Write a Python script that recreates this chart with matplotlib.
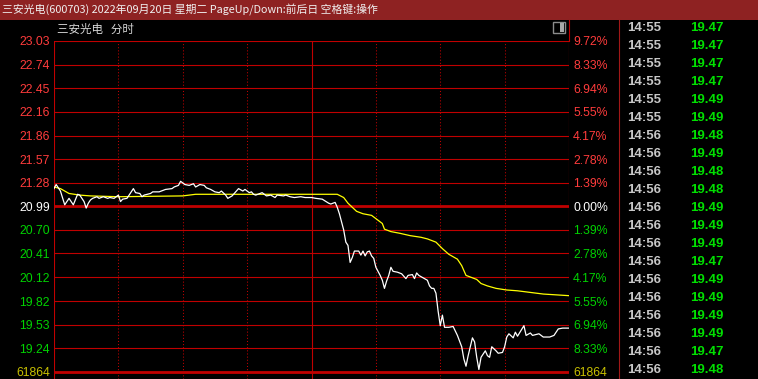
import matplotlib
matplotlib.use("Agg")
import matplotlib.pyplot as plt
from matplotlib.patches import Rectangle
from matplotlib.lines import Line2D


# ---------- data ----------
title = "三安光电(600703) 2022年09月20日 星期二 PageUp/Down:前后日 空格键:操作"
subtitle = "三安光电   分时"

price_labels = ["23.03", "22.74", "22.45", "22.16", "21.86", "21.57", "21.28",
                "20.99", "20.70", "20.41", "20.12", "19.82", "19.53", "19.24"]
pct_labels = ["9.72%", "8.33%", "6.94%", "5.55%", "4.17%", "2.78%", "1.39%",
              "0.00%", "1.39%", "2.78%", "4.17%", "5.55%", "6.94%", "8.33%"]
prev_close = 20.99
vol_label = "61864"
vol_row = 18.95

# minute index (0..240) and last price
price_min = [0, 1, 3, 5, 7, 9, 11, 12, 14, 15, 16, 17, 18, 20, 21, 23, 25, 26, 28, 30,
             31, 32, 34, 35, 37, 38, 40, 41, 42, 45, 46, 49, 50, 52, 55, 56, 58, 59, 60, 61,
             63, 65, 66, 68, 70, 71, 73, 75, 77, 78, 80, 81, 83, 85, 86, 88, 89, 91, 92, 93,
             94, 96, 97, 99, 101, 103, 104, 107, 108, 110, 112, 115, 117, 120,
             122, 125, 128, 129, 131, 132, 133, 134, 135, 136, 137, 138, 139, 140, 142, 143,
             144, 145, 146, 147, 148, 149, 150, 151, 152, 153, 154, 155, 156, 157, 158, 160,
             162, 164, 165, 167, 168, 169, 170, 172, 174, 175, 176, 177, 178, 179, 180, 181,
             182, 184, 186, 188, 190, 191, 192, 193, 195, 196, 197, 198, 199, 201, 202, 203,
             204, 206, 207, 209, 210, 211, 212, 214, 215, 216, 219, 220, 222, 223, 226, 228,
             231, 233, 235, 237, 240]
price_val = [21.21, 21.26, 21.18, 21.01, 21.09, 21.01, 21.14, 21.13, 21.05, 20.97, 21.03, 21.07,
             21.09, 21.11, 21.09, 21.11, 21.09, 21.10, 21.09, 21.13, 21.05, 21.08, 21.09, 21.13,
             21.21, 21.16, 21.15, 21.11, 21.13, 21.15, 21.17, 21.17, 21.18, 21.20, 21.21, 21.23,
             21.25, 21.30, 21.28, 21.26, 21.25, 21.27, 21.23, 21.26, 21.25, 21.22, 21.20, 21.17,
             21.16, 21.18, 21.13, 21.09, 21.12, 21.18, 21.21, 21.18, 21.20, 21.16, 21.17, 21.14,
             21.13, 21.15, 21.16, 21.12, 21.13, 21.10, 21.13, 21.12, 21.13, 21.11, 21.10, 21.11,
             21.10, 21.10,
             21.09, 21.08, 21.03, 21.02, 21.04, 20.98, 20.90, 20.80, 20.70, 20.55, 20.51, 20.30,
             20.36, 20.44, 20.44, 20.39, 20.44, 20.38, 20.43, 20.44, 20.38, 20.35, 20.24, 20.19,
             20.14, 20.08, 19.98, 20.07, 20.14, 20.24, 20.19, 20.18, 20.16, 20.10, 20.14, 20.15,
             20.10, 20.17, 20.14, 20.11, 20.08, 20.01, 19.98, 19.98, 19.92, 19.70, 19.52, 19.65,
             19.50, 19.50, 19.51, 19.40, 19.26, 19.11, 19.02, 19.15, 19.37, 19.32, 19.13, 18.98,
             19.13, 19.21, 19.15, 19.13, 19.26, 19.21, 19.18, 19.19, 19.26, 19.38, 19.42, 19.37,
             19.44, 19.39, 19.52, 19.40, 19.43, 19.40, 19.42, 19.38, 19.38, 19.40, 19.48, 19.49,
             19.49]

# average price line
avg_min = [0, 3, 7, 12, 17, 30, 60, 66, 132, 135, 137, 139, 141, 144, 148, 150, 153, 154,
           157, 161, 166, 171, 174, 178, 181, 184, 188, 190, 192, 195, 197, 199, 202, 206,
           211, 216, 222, 228, 234, 240]
avg_val = [21.23, 21.21, 21.15, 21.13, 21.12, 21.11, 21.12, 21.14, 21.14, 21.10, 21.03, 20.98,
           20.93, 20.90, 20.88, 20.84, 20.78, 20.71, 20.68, 20.66, 20.63, 20.61, 20.59, 20.55,
           20.47, 20.40, 20.34, 20.26, 20.14, 20.11, 20.09, 20.04, 20.01, 19.98, 19.96, 19.95,
           19.93, 19.91, 19.90, 19.89]

# tick-by-tick list on the right
tick_times = ["14:55"] * 6 + ["14:56"] * 14
tick_prices = ["19.47", "19.47", "19.47", "19.47", "19.49", "19.49", "19.48", "19.49",
               "19.48", "19.48", "19.49", "19.49", "19.49", "19.47", "19.49", "19.49",
               "19.49", "19.49", "19.47", "19.48"]

# ---------- styling ----------
BG = "black"
GRID = "#C00000"
UP = "#FF3C3C"
DOWN = "#00D200"
BAR = "#8E2222"
CJK = ["Noto Sans CJK SC", "DejaVu Sans"]
NUM = "Liberation Sans"

W, H = 758, 379
fig = plt.figure(figsize=(W / 100, H / 100), dpi=100, facecolor=BG)

# title bar
fig.add_artist(Rectangle((0, 1 - 20 / H), 1, 20 / H, transform=fig.transFigure,
                         facecolor=BAR, edgecolor="none"))
fig.text(2 / W, 1 - 10 / H, title, color="#F0F0F0", fontsize=7.8, family=CJK,
         va="center", ha="left")
fig.text(57 / W, 1 - 29 / H, subtitle, color="#D8D8D8", fontsize=8.3, family=CJK,
         va="center", ha="left")

# small toggle icon
fig.add_artist(Rectangle((553 / W, 1 - 33 / H), 12 / W, 11 / H, transform=fig.transFigure,
                         facecolor="none", edgecolor="#8C8C8C", lw=1))
fig.add_artist(Rectangle((560 / W, 1 - 32 / H), 4 / W, 9 / H, transform=fig.transFigure,
                         facecolor="#A8A8A8", edgecolor="none"))

# main chart
ax = fig.add_axes([54 / W, 0, 515 / W, 338 / H])
ax.set_facecolor(BG)
grid_prices = [float(s) for s in price_labels]
step = (grid_prices[0] - grid_prices[-1]) / (len(grid_prices) - 1)
ax.set_xlim(0, 240)
ax.set_ylim(vol_row - step * 0.3, grid_prices[0])
for s in ax.spines.values():
    s.set_visible(False)

for p in grid_prices:
    ax.axhline(p, color=GRID, lw=2.0 if p == prev_close else 0.8, zorder=1)
ax.axhline(vol_row, color=GRID, lw=2.0, zorder=1)

for m in [0, 120, 240]:
    ax.axvline(m, color=GRID, lw=0.8, zorder=1)
for m in [30, 60, 90, 150, 180, 210]:
    ax.axvline(m, color=GRID, lw=0.75, ls=(0, (1, 2)), zorder=1)

ax.plot(avg_min, avg_val, color="#FFFF00", lw=0.9, zorder=3)
ax.plot(price_min, price_val, color="white", lw=0.9, zorder=4)

# axis labels
label_colors = [UP if p > prev_close else ("white" if p == prev_close else DOWN)
                for p in grid_prices]
yt = grid_prices + [vol_row]
ax.set_yticks(yt)
ax.set_yticklabels(price_labels + [vol_label])
ax.set_xticks([])
ax.tick_params(axis="y", length=0, pad=3)
for lab, c in zip(ax.get_yticklabels(), label_colors + ["#C8C000"]):
    lab.set_color(c)
    lab.set_family(NUM)
    lab.set_fontsize(8.8)

ax2 = ax.twinx()
ax2.set_ylim(ax.get_ylim())
for s in ax2.spines.values():
    s.set_visible(False)
ax2.set_yticks(yt)
ax2.set_yticklabels(pct_labels + [vol_label])
ax2.tick_params(axis="y", length=0, pad=3)
for lab, c in zip(ax2.get_yticklabels(), label_colors + ["#C8C000"]):
    lab.set_color(c)
    lab.set_family(NUM)
    lab.set_fontsize(8.8)

# vertical separators above the chart area
fig.add_artist(Line2D([569 / W, 569 / W], [1 - 20 / H, 1 - 41 / H], color=GRID, lw=0.8,
                      transform=fig.transFigure))
fig.add_artist(Line2D([619 / W, 619 / W], [0, 1 - 20 / H], color="#A01818", lw=0.8,
                      transform=fig.transFigure))

# tick list panel
for i, (tm, pr) in enumerate(zip(tick_times, tick_prices)):
    y = 1 - (28 + 18 * i) / H
    fig.text(627 / W, y, tm, color="#C8C8C8", fontsize=9.5, family=NUM,
             fontweight="bold", va="center", ha="left")
    fig.text(690 / W, y, pr, color="#00E000", fontsize=9.5, family=NUM,
             fontweight="bold", va="center", ha="left")

fig.savefig("out.png", dpi=100, facecolor=BG)
